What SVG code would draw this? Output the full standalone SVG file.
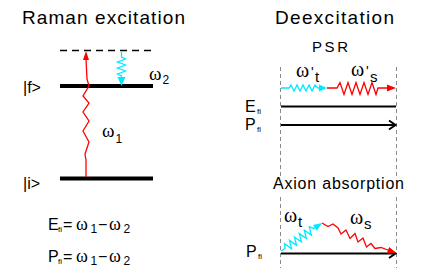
<svg xmlns="http://www.w3.org/2000/svg" width="436" height="273" viewBox="0 0 436 273">
<style>
text{font-family:"Liberation Sans",Arial,sans-serif;fill:#000}
.w{font-family:"Liberation Serif","Times New Roman",serif}
.red{fill:none;stroke:#ff0000;stroke-width:1.3;stroke-linejoin:miter}
.cy{fill:none;stroke:#00eaff;stroke-width:1.3}
.lvl{stroke:#000;stroke-width:4}
.gd{stroke:#8a8a8a;stroke-width:1;stroke-dasharray:4 3}
.blk{stroke:#000;stroke-width:2;fill:none}
</style>
<rect width="436" height="273" fill="#fff"/>

<g id="titles">
<text x="22" y="24" font-size="19" textLength="163" lengthAdjust="spacing">Raman excitation</text>
<text x="275" y="24" font-size="19" textLength="119" lengthAdjust="spacing">Deexcitation</text>
<text x="312" y="52" font-size="15" textLength="36" lengthAdjust="spacing">PSR</text>
<text x="273" y="189" font-size="16" textLength="131" lengthAdjust="spacing">Axion absorption</text>
</g>

<g id="level-virtual">
<line x1="60" y1="50.5" x2="153" y2="50.5" stroke="#000" stroke-width="1.5" stroke-dasharray="7 5"/>
</g>
<g id="level-f">
<line class="lvl" x1="60" y1="86" x2="153" y2="86"/>
<text x="23" y="93" font-size="16">|f&gt;</text>
</g>
<g id="level-i">
<line class="lvl" x1="60" y1="178.5" x2="153" y2="178.5"/>
<text x="23" y="189" font-size="16">|i&gt;</text>
</g>

<g id="connectors">
<path class="red" d="M86,177 L86,160 L85,154 L89,142 L83,131 L89,121 L83,112 L89,103 L83,96 L89,86 L87,79 L86,59"/>
<polygon points="83,60 89,60 86,51" fill="#ff0000"/>
<path class="cy" d="M121.5,52 L121.5,57 L125.5,59 L117.5,62 L125.5,65 L117.5,68 L125.5,71 L117.5,74 L121.5,76 L121.5,78"/>
<polygon points="117.5,77 125.5,77 121.5,86" fill="#00eaff"/>

<line class="gd" x1="280.5" y1="67" x2="280.5" y2="176"/>
<line class="gd" x1="396.5" y1="67" x2="396.5" y2="176"/>
<line class="gd" x1="280.5" y1="197" x2="280.5" y2="268"/>
<line class="gd" x1="396.5" y1="197" x2="396.5" y2="268"/>

<path class="cy" d="M281,88 L289,88 L291,85 L294,91 L297,85 L300,91 L303,85 L306,91 L309,85 L312,91 L315,85 L318,88 L320,88"/>
<polygon points="319,84.5 319,91.5 327,88" fill="#00eaff"/>
<path class="red" d="M327,88 L337,88 L340,82.5 L344,94.5 L348,82.5 L352,94.5 L356,82.5 L360,94.5 L364,82.5 L368,94.5 L372,82.5 L376,94.5 L378,88 L388,88"/>
<polygon points="387,84.5 387,91.5 396,88" fill="#ff0000"/>

<line class="blk" x1="281" y1="106.5" x2="396" y2="106.5"/>
<line class="blk" x1="281" y1="125" x2="395" y2="125"/>
<polyline class="blk" points="389,120.5 395.5,125 389,129.5"/>

<line class="blk" x1="281" y1="253.5" x2="395" y2="253.5" stroke-width="2.5"/>
<polyline class="blk" points="389,249 395.5,253.5 389,258"/>
<g transform="translate(281,251) rotate(-34.3)">
<path class="cy" d="M0,0 L5,0 L7,-4 L10,4 L13,-4 L16,4 L19,-4 L22,4 L25,-4 L28,4 L31,-4 L34,4 L37,-4 L40,0 L42,0"/>
<polygon points="41,-3.5 41,3.5 49.6,0" fill="#00eaff"/>
</g>
<path class="red" d="M322,223 L328,226.5 L333,224 L338,228 L341,234 L346,230 L350,238.5 L355,233.5 L358,242 L363,238 L366.5,247 L371,243.5 L375,248.5 L381,247.5 L389,250.5"/>
<polygon points="386.8,253.6 389.2,247 396,253" fill="#ff0000"/>
</g>

<g id="labels">
<text class="w" x="149" y="80" font-size="19">ω</text><text x="162.5" y="84" font-size="12">2</text>
<text class="w" x="102" y="137" font-size="19">ω</text><text x="115.5" y="143" font-size="12">1</text>

<text class="w" x="296" y="76.5" font-size="20">ω</text><text x="311" y="77" font-size="14">'</text><text x="315" y="82" font-size="15">t</text>
<text class="w" x="351" y="76" font-size="20">ω</text><text x="366" y="76" font-size="14">'</text><text x="370" y="82" font-size="15">s</text>

<text x="245" y="112" font-size="16">E</text><text x="257" y="114" font-size="8">fi</text>
<text x="245" y="130" font-size="16">P</text><text x="257" y="132" font-size="8">fi</text>
<text x="246" y="257" font-size="16">P</text><text x="258" y="259" font-size="8">fi</text>

<text class="w" x="284" y="222" font-size="20">ω</text><text x="298" y="227" font-size="15">t</text>
<text class="w" x="350" y="223.5" font-size="20">ω</text><text x="364" y="229" font-size="15">s</text>
</g>

<g id="equations">
<text x="48" y="230" font-size="16">E</text><text x="58" y="232" font-size="8">fi</text>
<text x="63" y="230" font-size="16">=</text>
<text class="w" x="76" y="230" font-size="18">ω</text><text x="90.5" y="233" font-size="12">1</text>
<text x="98" y="230" font-size="16">−</text>
<text class="w" x="109" y="230" font-size="18">ω</text><text x="123.5" y="233" font-size="12">2</text>

<text x="48" y="262" font-size="16">P</text><text x="58" y="264" font-size="8">fi</text>
<text x="63" y="262" font-size="16">=</text>
<text class="w" x="76" y="262" font-size="18">ω</text><text x="90.5" y="265" font-size="12">1</text>
<text x="98" y="262" font-size="16">−</text>
<text class="w" x="109" y="262" font-size="18">ω</text><text x="123.5" y="265" font-size="12">2</text>
</g>
</svg>
